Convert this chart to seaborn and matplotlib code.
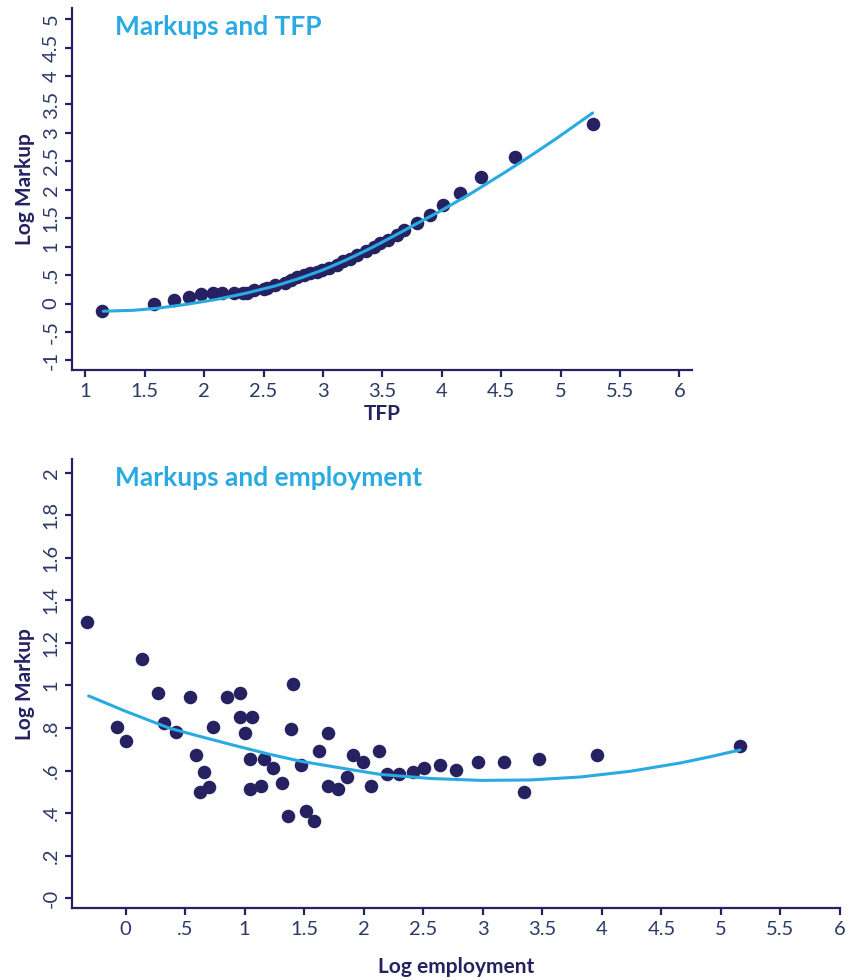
import matplotlib
matplotlib.use("Agg")
import matplotlib.pyplot as plt
import seaborn as sns
import pandas as pd

# Markups and TFP (binned scatter + fitted curve)
tfp_x = [1.14, 1.58, 1.75, 1.875, 1.97, 2.07, 2.15, 2.25, 2.33, 2.36, 2.42, 2.50, 2.53,
         2.60, 2.68, 2.73, 2.78, 2.84, 2.89, 2.95, 2.99, 3.05, 3.12, 3.17, 3.23, 3.29,
         3.36, 3.43, 3.48, 3.55, 3.62, 3.68, 3.79, 3.90, 4.01, 4.15, 4.33, 4.62, 5.27]
tfp_markup = [-0.13, 0.0, 0.07, 0.12, 0.16, 0.185, 0.185, 0.18, 0.19, 0.18, 0.23, 0.26, 0.27,
              0.33, 0.36, 0.41, 0.46, 0.50, 0.53, 0.56, 0.59, 0.63, 0.67, 0.75, 0.79, 0.85,
              0.92, 0.99, 1.06, 1.12, 1.21, 1.29, 1.42, 1.55, 1.73, 1.94, 2.23, 2.58, 3.15]
tfp_fit_x = [1.15, 1.4, 1.6, 1.85, 2.1, 2.35, 2.6, 2.8, 3.0, 3.2, 3.4, 3.6, 3.75, 4.0,
             4.25, 4.55, 4.75, 4.95, 5.1, 5.27]
tfp_fit_y = [-0.135, -0.12, -0.085, -0.015, 0.07, 0.18, 0.31, 0.44, 0.59, 0.77, 0.97,
             1.19, 1.36, 1.64, 1.94, 2.33, 2.60, 2.88, 3.10, 3.35]

# Markups and employment
emp_x = [-0.32, -0.069, 0.0, 0.139, 0.273, 0.326, 0.427, 0.539, 0.595, 0.626, 0.662, 0.698,
         0.737, 0.850, 0.959, 0.959, 1.006, 1.045, 1.045, 1.065, 1.138, 1.160, 1.241, 1.314,
         1.367, 1.387, 1.409, 1.474, 1.513, 1.583, 1.627, 1.703, 1.703, 1.782, 1.862, 1.910,
         1.997, 2.061, 2.128, 2.193, 2.294, 2.411, 2.509, 2.643, 2.775, 2.963, 3.175, 3.346,
         3.469, 3.956, 5.160]
emp_markup = [1.297, 0.804, 0.741, 1.125, 0.965, 0.825, 0.780, 0.947, 0.673, 0.501, 0.592, 0.522,
              0.804, 0.947, 0.965, 0.851, 0.778, 0.653, 0.514, 0.851, 0.529, 0.653, 0.611, 0.543,
              0.388, 0.794, 1.009, 0.626, 0.412, 0.363, 0.694, 0.778, 0.529, 0.514, 0.569, 0.673,
              0.642, 0.529, 0.694, 0.584, 0.584, 0.592, 0.611, 0.626, 0.603, 0.642, 0.642, 0.501,
              0.655, 0.673, 0.714]
emp_fit_x = [-0.31, 0.0, 0.37, 0.65, 0.93, 1.2, 1.47, 1.8, 2.14, 2.56, 2.98, 3.40, 3.82,
             4.24, 4.66, 4.9, 5.16]
emp_fit_y = [0.951, 0.879, 0.799, 0.757, 0.716, 0.678, 0.644, 0.613, 0.582, 0.563, 0.554,
             0.556, 0.570, 0.597, 0.636, 0.664, 0.697]

tfp_xticks = [1, 1.5, 2, 2.5, 3, 3.5, 4, 4.5, 5, 5.5, 6]
tfp_xlabels = ["1", "1.5", "2", "2.5", "3", "3.5", "4", "4.5", "5", "5.5", "6"]
tfp_yticks = [-1, -0.5, 0, 0.5, 1, 1.5, 2, 2.5, 3, 3.5, 4, 4.5, 5]
tfp_ylabels = ["-1", "-.5", "0", ".5", "1", "1.5", "2", "2.5", "3", "3.5", "4", "4.5", "5"]
emp_xticks = [0, 0.5, 1, 1.5, 2, 2.5, 3, 3.5, 4, 4.5, 5, 5.5, 6]
emp_xlabels = ["0", ".5", "1", "1.5", "2", "2.5", "3", "3.5", "4", "4.5", "5", "5.5", "6"]
emp_yticks = [0, 0.2, 0.4, 0.6, 0.8, 1, 1.2, 1.4, 1.6, 1.8, 2]
emp_ylabels = ["-0", ".2", ".4", ".6", ".8", "1", "1.2", "1.4", "1.6", "1.8", "2"]

NAVY = "#262262"
TICKCOL = "#2c3a66"
BLUE = "#29abe2"

sns.set_style("ticks")
plt.rcParams['font.family'] = ['Lato', 'DejaVu Sans']

fig = plt.figure(figsize=(8.53, 9.80), dpi=100)
ax1 = fig.add_axes([0.0848, 0.6224, 0.7265, 0.3691])
ax2 = fig.add_axes([0.0848, 0.0732, 0.9000, 0.4581])


def style_axis(ax, xticks, xlabels, yticks, ylabels, xlabel, xlim, ylim, xpad):
    ax.set_xlim(*xlim)
    ax.set_ylim(*ylim)
    ax.set_xticks(xticks)
    ax.set_xticklabels(xlabels)
    ax.set_yticks(yticks)
    ax.set_yticklabels(ylabels, rotation=90, va="center")
    sns.despine(ax=ax)
    for s in ["left", "bottom"]:
        ax.spines[s].set_color(NAVY)
        ax.spines[s].set_linewidth(1.6)
    ax.tick_params(axis="both", colors=NAVY, labelcolor=TICKCOL, labelsize=14.5,
                   length=5, width=1.6)
    ax.tick_params(axis="y", pad=4)
    ax.tick_params(axis="x", pad=4)
    ax.set_xlabel(xlabel, fontsize=15, fontweight="bold", color=NAVY, labelpad=xpad)
    ax.set_ylabel("Log Markup", fontsize=15, fontweight="bold", color=NAVY, labelpad=6)


df_tfp = pd.DataFrame({"TFP": tfp_x, "markup": tfp_markup})
sns.scatterplot(data=df_tfp, x="TFP", y="markup", ax=ax1, color=NAVY, s=95,
                linewidth=0, zorder=2)
sns.lineplot(x=tfp_fit_x, y=tfp_fit_y, ax=ax1, color=BLUE, linewidth=2.2,
             sort=False, zorder=3)
style_axis(ax1, tfp_xticks, tfp_xlabels, tfp_yticks, tfp_ylabels, "TFP",
           (0.89, 6.107), (-1.17, 5.19), 3)

df_emp = pd.DataFrame({"emp": emp_x, "markup": emp_markup})
sns.scatterplot(data=df_emp, x="emp", y="markup", ax=ax2, color=NAVY, s=95,
                linewidth=0, zorder=2)
sns.lineplot(x=emp_fit_x, y=emp_fit_y, ax=ax2, color=BLUE, linewidth=2.2,
             sort=False, zorder=3)
style_axis(ax2, emp_xticks, emp_xlabels, emp_yticks, emp_ylabels, "Log employment",
           (-0.447, 6.0), (-0.047, 2.063), 14)

fig.text(115 / 853, 1 - 35 / 980, "Markups and TFP", fontsize=19, fontweight="bold",
         color=BLUE, va="baseline", ha="left")
fig.text(115 / 853, 1 - 486 / 980, "Markups and employment", fontsize=19,
         fontweight="bold", color=BLUE, va="baseline", ha="left")

fig.savefig("out.png", dpi=100)
